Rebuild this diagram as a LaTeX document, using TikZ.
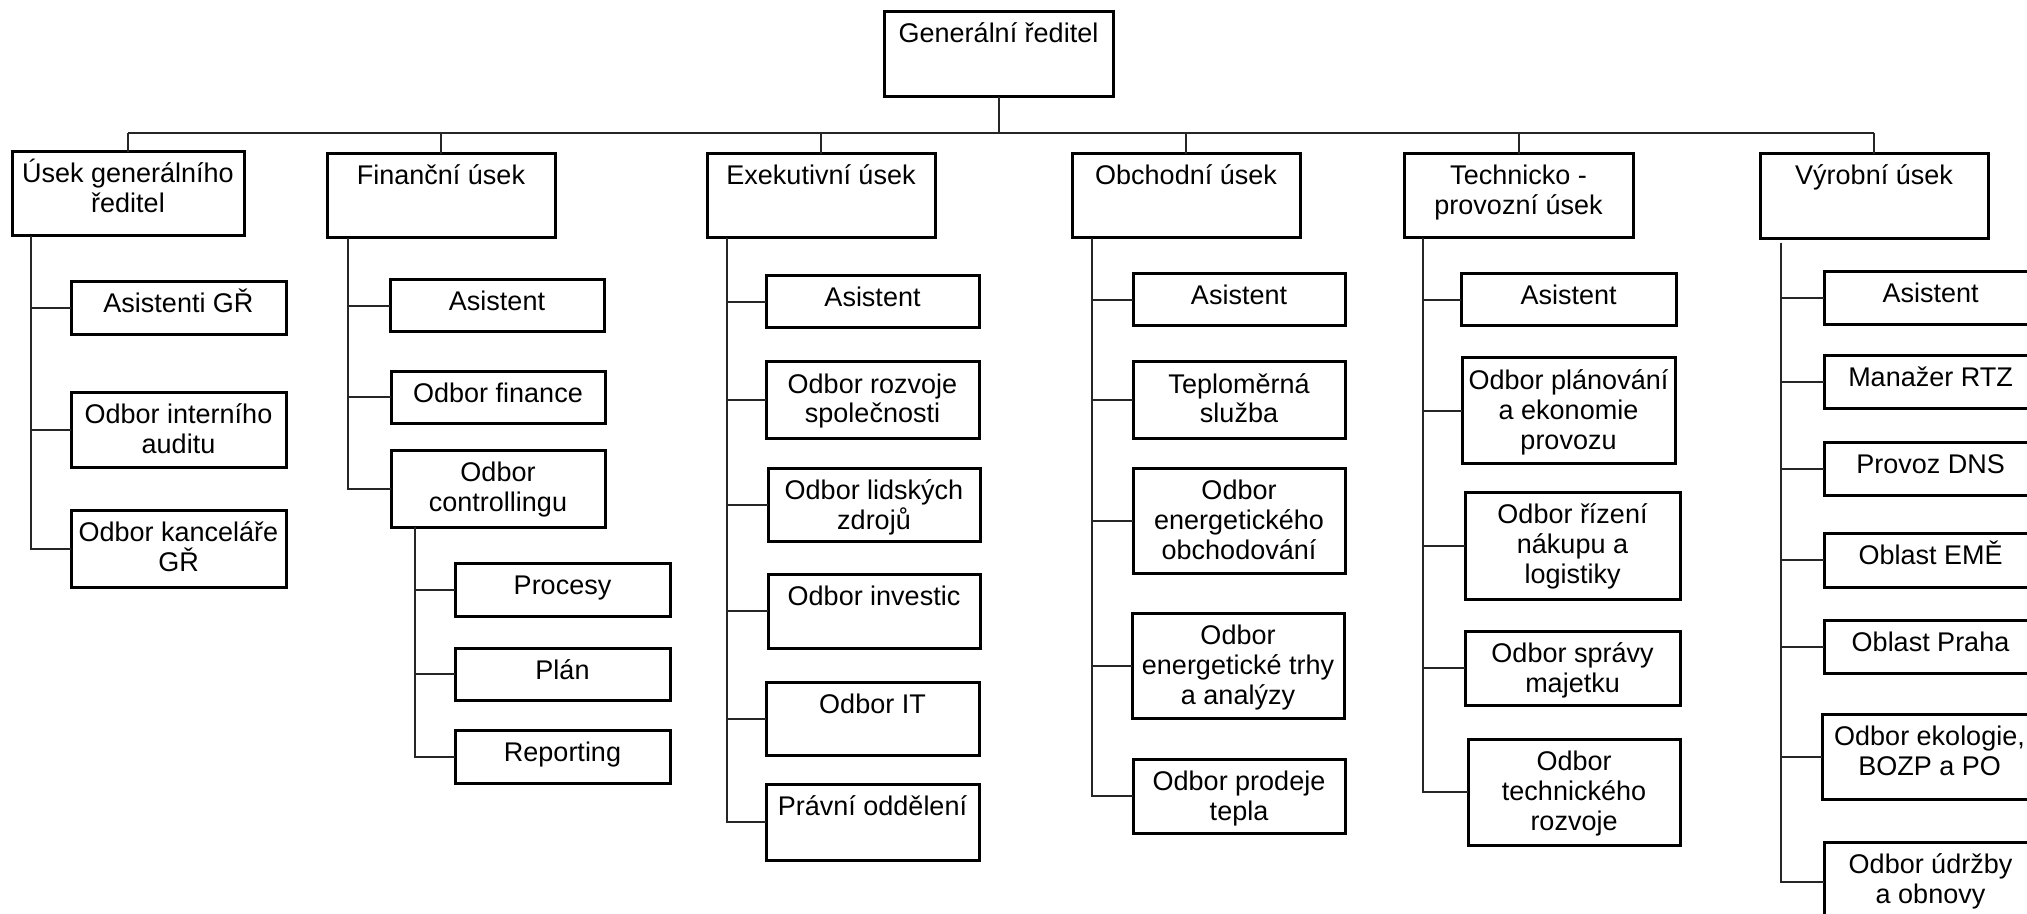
\documentclass[tikz,border=0pt]{standalone}
\usepackage{fontspec}
\setmainfont{Liberation Sans}
\usetikzlibrary{calc}

% one unit = one pixel of the chart, y growing downwards
\tikzset{
  obox/.style={draw=black, line width=1.5pt, inner sep=0pt, outer sep=0pt, fill=white},
  conn/.style={draw=black!85, line width=1pt},
}

% \orgbox{name}{x1}{y1}{x2}{y2}{text}: box with its text set from the top
\newcommand{\orgbox}[6]{%
  \pgfmathsetmacro{\bxw}{(#4-#2)/2}%
  \pgfmathsetmacro{\bxh}{(#5-#3)/2}%
  \node[obox] (#1) at ({(#2+#4)/2},{(#3+#5)/2})
    {\parbox[c][\bxh pt][t]{\bxw pt}{\centering\rule{0pt}{15.5pt}#6}};%
}

\begin{document}
\begin{tikzpicture}[x=0.5pt, y=-0.5pt, font=\fontsize{13.5}{15}\selectfont]
\useasboundingbox (0,0) rectangle (2027,914);
\fill[white] (0,0) rectangle (2027,914);
\clip (0,0) rectangle (2027,914);

% top
\orgbox{gr}{884}{12}{1113}{97}{Generální ředitel}

% divisions
\orgbox{u1}{12}{152}{244}{236}{Úsek generálního\\ředitel}
\orgbox{u2}{327}{154}{555}{238}{Finanční úsek}
\orgbox{u3}{707}{154}{935}{238}{Exekutivní úsek}
\orgbox{u4}{1072}{154}{1300}{238}{Obchodní úsek}
\orgbox{u5}{1404}{154}{1633}{238}{Technicko -\\provozní úsek}
\orgbox{u6}{1760}{154}{1988}{239}{Výrobní úsek}

% under the general director's division
\orgbox{a1}{71}{282}{286}{335}{Asistenti GŘ}
\orgbox{a2}{71}{392}{286}{467}{Odbor interního\\auditu}
\orgbox{a3}{71}{510}{286}{587}{Odbor kanceláře\\GŘ}

% finance
\orgbox{b1}{390}{280}{604}{332}{Asistent}
\orgbox{b2}{391}{371}{605}{423}{Odbor finance}
\orgbox{b3}{391}{450}{605}{527}{Odbor\\controllingu}
\orgbox{b4}{455}{563}{670}{616}{Procesy}
\orgbox{b5}{455}{648}{670}{700}{Plán}
\orgbox{b6}{455}{730}{670}{783}{Reporting}

% executive
\orgbox{c1}{766}{276}{979}{328}{Asistent}
\orgbox{c2}{766}{362}{979}{438}{Odbor rozvoje\\společnosti}
\orgbox{c3}{768}{468}{980}{541}{Odbor lidských\\zdrojů}
\orgbox{c4}{768}{574}{980}{648}{Odbor investic}
\orgbox{c5}{766}{682}{979}{755}{Odbor IT}
\orgbox{c6}{766}{784}{979}{860}{Právní oddělení}

% commercial
\orgbox{d1}{1133}{274}{1345}{326}{Asistent}
\orgbox{d2}{1133}{362}{1345}{438}{Teploměrná\\služba}
\orgbox{d3}{1133}{468}{1345}{573}{Odbor\\energetického\\obchodování}
\orgbox{d4}{1132}{613}{1344}{718}{Odbor\\energetické trhy\\a analýzy}
\orgbox{d5}{1133}{759}{1345}{833}{Odbor prodeje\\tepla}

% technical and operations
\orgbox{e1}{1461}{274}{1676}{326}{Asistent}
\orgbox{e2}{1462}{358}{1675}{463}{Odbor plánování\\a ekonomie\\provozu}
\orgbox{e3}{1465}{492}{1680}{599}{Odbor řízení\\nákupu a\\logistiky}
\orgbox{e4}{1465}{631}{1680}{705}{Odbor správy\\majetku}
\orgbox{e5}{1468}{739}{1680}{845}{Odbor\\technického\\rozvoje}

% production
\orgbox{f1}{1824}{272}{2037}{325}{Asistent}
\orgbox{f2}{1824}{356}{2037}{408}{Manažer RTZ}
\orgbox{f3}{1824}{442}{2037}{495}{Provoz DNS}
\orgbox{f4}{1824}{533}{2037}{587}{Oblast EMĚ}
\orgbox{f5}{1824}{620}{2037}{673}{Oblast Praha}
\orgbox{f6}{1822}{714}{2037}{799}{Odbor ekologie,\\BOZP a PO}
\orgbox{f7}{1824}{842}{2037}{922}{Odbor údržby\\a obnovy}

% bus from the general director to the divisions
\coordinate (bus) at (998,133);
\draw[conn] (gr.south) -- (gr.south |- bus);
\draw[conn] (u1.north |- bus) -- (u6.north |- bus);
\foreach \u in {u1,u2,u3,u4,u5,u6}
  \draw[conn] (\u.north) -- (\u.north |- bus);

% division spines
\foreach \c in {a1,a2,a3}
  \draw[conn] ([xshift=9.5pt]u1.south west) |- (\c.west);
\foreach \c in {b1,b2,b3}
  \draw[conn] ([xshift=10.5pt]u2.south west) |- (\c.west);
\foreach \c in {b4,b5,b6}
  \draw[conn] ([xshift=12pt]b3.south west) |- (\c.west);
\foreach \c in {c1,c2,c3,c4,c5,c6}
  \draw[conn] ([xshift=10pt]u3.south west) |- (\c.west);
\foreach \c in {d1,d2,d3,d4,d5}
  \draw[conn] ([xshift=10pt]u4.south west) |- (\c.west);
\foreach \c in {e1,e2,e3,e4,e5}
  \draw[conn] ([xshift=9.5pt]u5.south west) |- (\c.west);
\foreach \c in {f1,f2,f3,f4,f5,f6,f7}
  \draw[conn] ([xshift=10.5pt,yshift=-2pt]u6.south west) |- (\c.west);
\end{tikzpicture}
\end{document}
